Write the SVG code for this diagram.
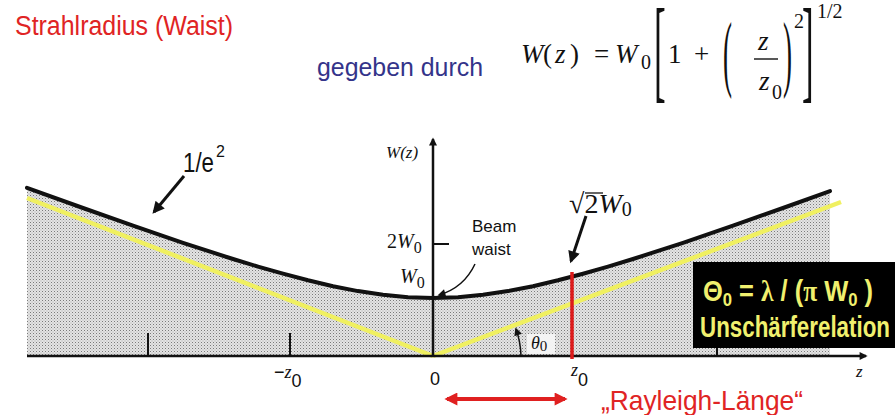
<svg xmlns="http://www.w3.org/2000/svg" width="895" height="415" viewBox="0 0 895 415">
<defs>
<style>
.sans{font-family:"Liberation Sans",Arial,sans-serif}
.serif{font-family:"Liberation Serif","Times New Roman",serif}
.it{font-style:italic}
.red{fill:#e02424}
.ylw{fill:#f0f06e;font-weight:bold}
.ax{stroke:#111;stroke-width:2.5;fill:none}
.tick{stroke:#111;stroke-width:2;fill:none}
</style>
<pattern id="stip" width="3" height="3" patternUnits="userSpaceOnUse">
<rect width="3" height="3" fill="#e4e4e4"/>
<rect width="1" height="1" fill="#7a7a7a"/>
<rect x="1.5" y="1.5" width="1" height="1" fill="#a8a8a8"/>
</pattern>
<marker id="ah" viewBox="0 0 10 10" refX="8" refY="5" markerWidth="14" markerHeight="12" markerUnits="userSpaceOnUse" orient="auto">
<path d="M0,0 L10,5 L0,10 z" fill="#111"/>
</marker>
<marker id="ahs" viewBox="0 0 10 10" refX="8" refY="5" markerWidth="10" markerHeight="8" markerUnits="userSpaceOnUse" orient="auto">
<path d="M0,0 L10,5 L0,10 z" fill="#111"/>
</marker>
<marker id="ahr" viewBox="0 0 10 10" refX="8" refY="5" markerWidth="15" markerHeight="13" markerUnits="userSpaceOnUse" orient="auto-start-reverse">
<path d="M0,0 L10,5 L0,10 z" fill="#e02020"/>
</marker>
</defs>
<rect width="895" height="415" fill="#fff"/>

<g id="title">
<text class="sans red" x="15" y="35" font-size="27" textLength="218" lengthAdjust="spacingAndGlyphs">Strahlradius (Waist)</text>
</g>

<g id="formula">
<text class="sans" x="317" y="76" font-size="26" fill="#34348a" textLength="166" lengthAdjust="spacingAndGlyphs">gegeben durch</text>
<g class="serif" font-size="27" fill="#111">
<text x="521" y="63" class="it">W</text>
<text x="543" y="63">(</text>
<text x="555" y="63" class="it">z</text>
<text x="570" y="63">)</text>
<text x="594" y="63">=</text>
<text x="615" y="63" class="it">W</text>
<text x="641" y="69" font-size="20">0</text>
<text transform="translate(654,88) scale(1.3,4.2)">[</text>
<text x="668" y="63">1</text>
<text x="694" y="63">+</text>
<text transform="translate(723,81) scale(1,3.1)">(</text>
<text x="758" y="50" class="it">z</text>
<text x="759" y="90" class="it">z</text>
<text x="772" y="99" font-size="20">0</text>
<text transform="translate(783,81) scale(1,3.1)">)</text>
<text x="794" y="28" font-size="20">2</text>
<text transform="translate(802,88) scale(1.3,4.2)">]</text>
<text x="817" y="18" font-size="20">1/2</text>
</g>
<line x1="754" y1="59" x2="778" y2="59" stroke="#111" stroke-width="1.4"/>
</g>

<g id="beam">
<path d="M27,356 L27,187.8 L83,208 L133,225.7 L183,242.8 L233,259 L258,266.6 L283,273.7 L308,280.3 L333,286.2 L358,291.1 L383,294.8 L408,297.2 L433,298 L458,297.2 L483,294.8 L508,291.1 L533,286.2 L558,280.3 L583,273.7 L608,266.6 L633,259 L683,242.8 L733,225.7 L783,208 L830,191.1 L830,356 Z" fill="url(#stip)"/>
<line x1="27" y1="198" x2="433" y2="356" stroke="#f0f060" stroke-width="4.5"/>
<line x1="433" y1="356" x2="841" y2="202" stroke="#f0f060" stroke-width="4.5"/>
<path d="M27,187.8 L83,208 L133,225.7 L183,242.8 L233,259 L258,266.6 L283,273.7 L308,280.3 L333,286.2 L358,291.1 L383,294.8 L408,297.2 L433,298 L458,297.2 L483,294.8 L508,291.1 L533,286.2 L558,280.3 L583,273.7 L608,266.6 L633,259 L683,242.8 L733,225.7 L783,208 L830,191.1" fill="none" stroke="#111" stroke-width="4" stroke-linejoin="round" stroke-linecap="round"/>
</g>

<g id="axes">
<line class="ax" x1="27" y1="356" x2="866" y2="356" marker-end="url(#ahs)"/>
<line class="ax" x1="433" y1="356" x2="433" y2="139" marker-end="url(#ahs)"/>
<line class="tick" x1="148" y1="333" x2="148" y2="356"/>
<line class="tick" x1="290" y1="333" x2="290" y2="356"/>
<line class="tick" x1="717" y1="333" x2="717" y2="356"/>
<line class="tick" x1="433" y1="244" x2="449" y2="244"/>
<text class="serif it" x="386" y="158" font-size="17" fill="#111">W(z)</text>
<text class="serif" x="387" y="248" font-size="20" fill="#111">2<tspan class="it">W</tspan><tspan font-size="16" dy="5">0</tspan></text>
<text class="serif" x="400" y="283" font-size="20" fill="#111"><tspan class="it">W</tspan><tspan font-size="16" dy="5">0</tspan></text>
<text class="sans" x="430" y="385" font-size="18" fill="#111">0</text>
<text x="274" y="378" font-size="18" fill="#111"><tspan class="sans">−</tspan><tspan class="serif it">z</tspan><tspan class="sans" dy="9">0</tspan></text>
<text x="571" y="376" font-size="18" fill="#111"><tspan class="serif it">z</tspan><tspan class="sans" dy="10">0</tspan></text>
<text class="serif it" x="856" y="377" font-size="17" fill="#111">z</text>
</g>

<g id="theta">
<rect x="527" y="334" width="28" height="20" fill="#f4f4f4"/>
<text class="serif" x="531" y="349" font-size="18" fill="#111"><tspan class="it">θ</tspan><tspan font-size="15" dy="2">0</tspan></text>
</g>

<g id="zR">
<line x1="572" y1="272" x2="572" y2="359" stroke="#dd1a1a" stroke-width="3.5"/>
</g>

<g id="sqrt2">
<text class="serif" x="569" y="213" font-size="28" fill="#111">√<tspan>2</tspan><tspan class="it">W</tspan><tspan font-size="20" dy="3">0</tspan></text>
<line x1="585" y1="193" x2="603" y2="193" stroke="#111" stroke-width="1.3"/>
</g>

<g id="waist">
<text class="sans" x="472" y="232" font-size="17" fill="#111">Beam</text>
<text class="sans" x="472" y="255" font-size="17" fill="#111">waist</text>
</g>

<g id="e2">
<text class="sans" x="183" y="172" font-size="28" fill="#111" textLength="31" lengthAdjust="spacingAndGlyphs">1/e</text>
<text class="sans" x="216" y="157" font-size="16" fill="#111">2</text>
</g>

<g id="box">
<rect x="693" y="262" width="202" height="86" fill="#000"/>
<text class="sans ylw" x="703" y="301" font-size="29" textLength="170" lengthAdjust="spacingAndGlyphs">Θ<tspan font-size="19" dy="5">0</tspan><tspan dy="-5"> = </tspan><tspan class="serif">λ</tspan> / (<tspan class="serif">π</tspan> W<tspan font-size="19" dy="5">0</tspan><tspan dy="-5"> )</tspan></text>
<text class="sans ylw" x="700" y="337" font-size="29" textLength="190" lengthAdjust="spacingAndGlyphs">Unschärferelation</text>
</g>

<g id="rayleigh">
<text class="sans red" x="601" y="410" font-size="28" textLength="202" lengthAdjust="spacingAndGlyphs">„Rayleigh-Länge“</text>
</g>

<g id="connectors">
<line x1="184" y1="176" x2="154" y2="212" stroke="#111" stroke-width="3" marker-end="url(#ah)"/>
<line x1="586" y1="216" x2="571" y2="261" stroke="#111" stroke-width="3" marker-end="url(#ah)"/>
<path d="M475,264 C468,279 456,290 439,295" fill="none" stroke="#111" stroke-width="1.5" marker-end="url(#ahs)"/>
<path d="M521,356 A88,88 0 0,0 516,329" fill="none" stroke="#111" stroke-width="1.5" marker-end="url(#ahs)"/>
<line x1="447" y1="399" x2="565" y2="399" stroke="#e02020" stroke-width="4" marker-start="url(#ahr)" marker-end="url(#ahr)"/>
</g>
</svg>
